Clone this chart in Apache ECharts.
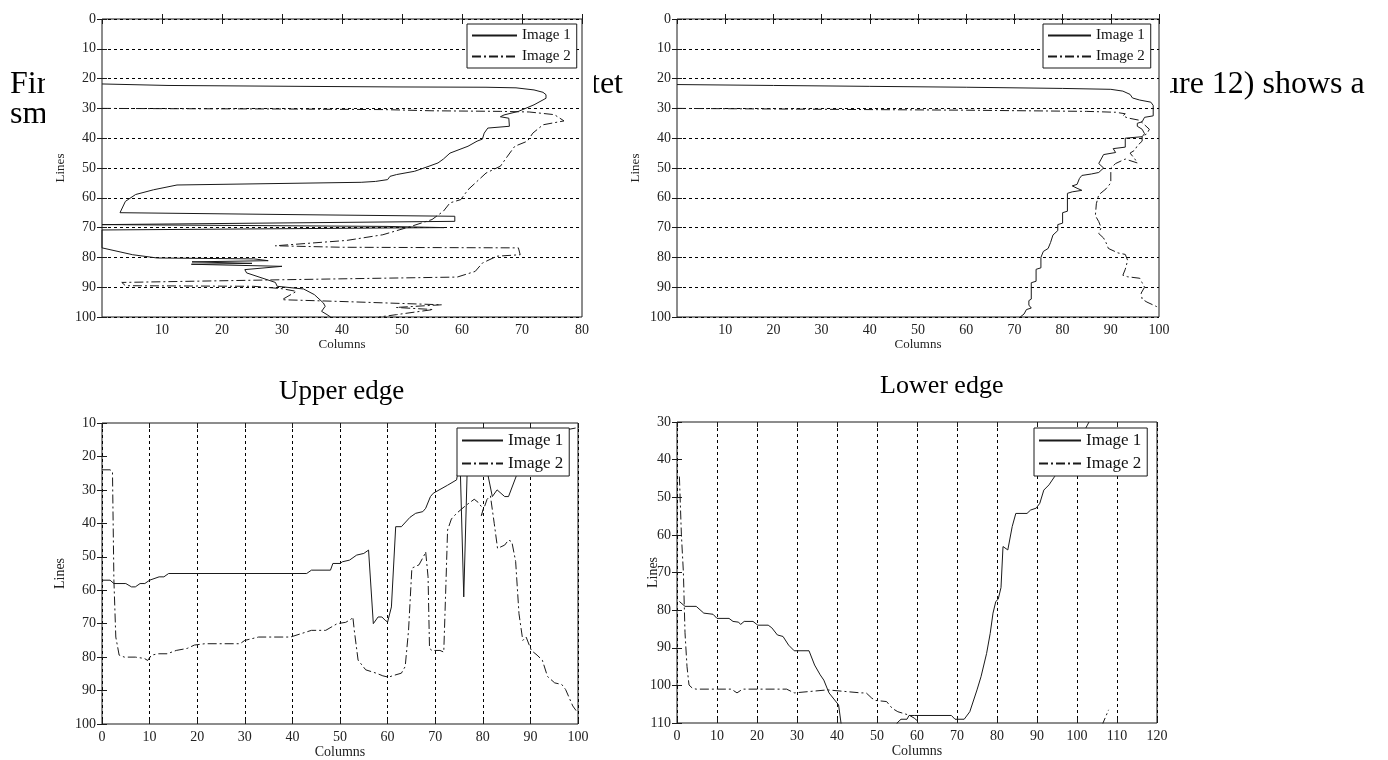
<!DOCTYPE html>
<html>
<head>
<meta charset="utf-8">
<script src="https://cdn.jsdelivr.net/npm/echarts@6/dist/echarts.min.js"></script>
<style>
html, body { margin: 0; padding: 0; background: #fff; }
#chart { width: 1388px; height: 760px; }
</style>
</head>
<body>
<div id="chart"></div>
<script>
// legend names and the page text around the figures
var seriesNames = ['Image 1', 'Image 2'];
var captions = ['Upper edge', 'Lower edge'];
var pageText = ['Fir', 'sm', 'tet', 'ure 12) shows a'];

// [column, line] points, in drawing order
var tlImage1 = [[0,21.8],[11,22.3],[33,22.6],[49,22.8],[64,22.9],[69,23.1],[72,23.8],[73.5,24.6],[74,25.4],[74,26.6],[72,28.8],[69.4,31],[67,32.2],[66.4,32.8],[67.8,33.3],[67.9,36],[64.3,36.6],[63.7,38.3],[63.4,40.3],[62.5,41],[61,42.7],[58,45],[56.9,47],[56,48.3],[54.5,49.4],[52.1,51.1],[49.1,52.2],[48,52.8],[47.6,53.9],[45.6,54.5],[43.2,54.8],[12.5,55.7],[8.6,57.3],[5.6,58.9],[3.9,61.2],[3,65],[30,65.6],[58.8,66.2],[58.8,67.9],[0,69],[47.5,69.6],[57,70],[0,70.8],[0,76.8],[5.1,79.1],[9.2,80.2],[25.3,80.5],[27.7,81.1],[15,81.5],[25,82],[14.9,82.3],[30,83],[23.8,84.1],[24.1,85.2],[28.9,88.4],[29.2,89.7],[33.6,90.6],[35.4,92.5],[36.9,95.3],[37.2,96.4],[36.6,98.1],[37.5,99.2],[38.1,100]];
var tlImage2 = [[0,30],[12,30.1],[30,30.2],[47,30.4],[55,30.8],[66.4,31],[71.2,31.2],[75.4,32.1],[77,34.2],[73.5,35.5],[71.8,38.3],[70.9,41],[68.8,42.7],[67.6,46],[66.4,49.4],[64,51.7],[61,57.3],[59.8,60.6],[58,61.7],[56.9,64.5],[55,67.3],[51.5,69.6],[46.8,72.4],[40.8,74.3],[28.9,76.1],[40,76.6],[69.4,76.8],[69.7,79.1],[65.8,79.6],[63.4,81.9],[62.2,84.7],[59.2,86.6],[30,87.5],[3.3,88.4],[3.9,89.5],[25.3,89.7],[30,90.5],[32.4,91.4],[30,94.2],[40,94.8],[56.6,95.9],[49,96.8],[55.2,97.5],[49.1,99.2],[46.2,100]];
var trImage1 = [[0,22],[20,22.3],[40,22.6],[60,22.9],[80,23.3],[90,23.6],[92.5,24.2],[94,25.3],[94.5,26.5],[96,27.2],[98.3,27.9],[98.8,29],[98.8,32.5],[97,33],[96.5,34.5],[95.5,35],[95.5,36],[96.5,37],[97,38.5],[96.5,39.5],[93,40],[93,43],[90.5,43.5],[91,44.8],[88.5,45.5],[88,47],[87.5,48.5],[88.5,50],[87.5,51.5],[86,52],[84,52.5],[83.5,53.5],[83,55.5],[82,56],[83,56.8],[84,57.5],[82,58],[81,58.5],[81,64.5],[80,65],[80,68.5],[79,69],[79,71],[78,72.5],[77.5,75],[77,77],[76,78],[75.5,80],[75.5,83.5],[74.5,84],[74.5,88],[73.5,88.5],[73.5,94],[73,94.5],[73,96],[73.5,97],[72.5,97.5],[72,99],[71.2,100]];
var trImage2 = [[0,30],[30,30.3],[60,30.6],[85,31],[91,31.3],[93,31.8],[92.5,32.5],[93.5,33.2],[96,34],[97,35.5],[98,37],[97.5,38.5],[96.5,39.5],[96.5,41],[95.5,42.5],[95,44],[94,45],[95,47],[95.5,48.3],[93,47],[91,48.5],[90,50],[90,55],[89,57],[87.5,59],[87,62],[86.8,66],[87.5,68],[88,70],[87.5,72],[88.5,73.5],[89,75],[89.5,77],[91.5,78.5],[93,79],[93.5,81],[93,84],[92.5,86],[93.5,86.5],[96,87],[96.5,88.5],[97,90],[96.3,92],[96.5,94],[97.5,95],[99.5,96.5],[100,97]];
var blImage1 = [[0,57],[1.7,57],[2.5,58],[5,58],[6.2,59],[7,59],[8,58],[9,58],[10,57],[12,56],[13,56],[14,55],[43,55],[44,54],[48,54],[48.5,52],[50,52],[50.5,51.5],[52,51],[53.5,49.5],[55,49],[56,48],[57,70],[58,68],[58.8,68],[59.5,69],[60,69.5],[60.8,65],[61.7,41],[62.9,41],[64.7,38.2],[65.9,37],[67.4,36.5],[68,35.5],[69,32],[69.6,31],[72.6,28.6],[74.5,27],[75.2,20],[76,62],[76.8,20],[79,15],[81,25],[82,32],[83,30],[84.6,32],[85.4,32],[87,26],[89,17],[94,13],[99.5,11.5]];
var blImage2 = [[0,24],[1.7,24],[2.2,24.5],[2.5,57],[2.9,74],[3.6,79.4],[4.7,80],[7,80],[8.9,80.4],[9.6,81],[10.4,79.4],[11.9,79],[13.7,79],[15.6,78],[17.9,77.4],[19.4,76.4],[21.6,76],[29,76],[30,75],[32.9,74],[39.6,74],[44,72],[47,72],[49.4,70],[51.2,69.6],[52.4,68.6],[52.7,68],[53,72],[53.8,80.9],[55.4,83.8],[57.6,84.8],[59,85.6],[60.2,86],[61,85.6],[62.9,84.8],[63.7,82.8],[64.4,72],[65.1,53.4],[66.6,52.4],[67.7,49.5],[68,48.5],[68.5,56],[68.8,77],[69.2,78],[71,78],[71.8,78.5],[72.3,56],[72.6,42],[73.4,38.7],[74.5,37],[76.4,34.7],[78.2,32.8],[79,33.7],[80.1,35.7],[79.7,37.7],[80.9,32.8],[81.6,31.8],[82.4,40],[83.1,47.5],[84.6,46.5],[85.4,45],[86.1,45.5],[86.9,51.4],[87.6,67],[88.4,75],[89.1,74],[90.2,78],[91.4,79.4],[92.5,80.9],[93.6,85.8],[95.1,87.7],[96.6,88.2],[97.4,89.7],[98.9,94.6],[99.6,96]];
var brImage1 = [[0.6,77.7],[2,79],[4.8,79],[6.7,80.8],[9,81.1],[10,82.2],[13,82.2],[14,83],[15.4,83.2],[15.9,83.8],[16.8,83],[19,83],[20.2,84],[22.8,84],[23.7,84.7],[25.1,86.6],[26.5,87],[27.9,89.3],[29.3,90.8],[33,90.8],[34.4,94.6],[35.8,97.2],[36.7,98.6],[38,102],[40.4,105.2],[41,110],[41.5,116],[54,116],[55,110],[56,109],[57.5,109],[58,108],[59.3,108],[68.6,108],[69.5,109],[71.8,109],[73.2,107],[75,101.2],[76,97.7],[77.4,91.5],[78.3,86.2],[79,80.8],[79.7,77.7],[80.3,77.1],[81,74],[81.5,63.1],[82.7,64],[83.8,57.8],[84.7,54.3],[87.5,54.3],[88.4,53.4],[89.8,52.9],[90.7,51.6],[91.7,48.1],[93,46.7],[94.4,44.5],[96,41],[99,37],[102,32],[103,30]];
var brImage2 = [[0.6,44.5],[1.1,60],[1.6,70],[2,86],[2.5,95],[3,99.9],[3.9,100.8],[4.8,101],[13.6,101],[15,102],[16.4,101],[27.4,101],[29.3,102],[37.6,101.2],[46,102],[47.3,102],[48.7,103.4],[49.6,104],[52.4,104.3],[53.8,106.1],[55.2,107],[58,107.9],[59.3,108.7],[60.3,109.6],[61,112],[106,112],[106.5,110],[107.9,106.5]];

var FONT = 'Liberation Serif';
var INK = '#1a1a1a';
var DASHDOT = [9, 3, 2, 3];

// layout of the four panels
var panels = [
    { rect: { left: 102, top: 19, width: 480, height: 298 }, x: [0, 80], y: [0, 100], gridOn: 'y', xZero: false,
      legend: { left: 467, top: 24, itemWidth: 45, itemHeight: 14, fontSize: 15 }, nameSize: 13, yGap: 35, data: [tlImage1, tlImage2] },
    { rect: { left: 677, top: 19, width: 482, height: 298 }, x: [0, 100], y: [0, 100], gridOn: 'y', xZero: false,
      legend: { left: 1043, top: 24, itemWidth: 43, itemHeight: 14, fontSize: 15 }, nameSize: 13, yGap: 35, data: [trImage1, trImage2] },
    { rect: { left: 102, top: 423, width: 476, height: 305 }, x: [0, 100], y: [10, 100], gridOn: 'x', xZero: true,
      legend: { left: 457, top: 428, itemWidth: 41, itemHeight: 17, fontSize: 17 }, nameSize: 14, yGap: 35, data: [blImage1, blImage2] },
    { rect: { left: 677, top: 422, width: 480, height: 301 }, x: [0, 120], y: [30, 110], gridOn: 'x', xZero: true,
      legend: { left: 1034, top: 428, itemWidth: 42, itemHeight: 17, fontSize: 17 }, nameSize: 14, yGap: 17, data: [brImage1, brImage2] }
];

var grid = [], xAxis = [], yAxis = [], series = [], legend = [];
var tickStyle = { inside: true, length: 5, lineStyle: { color: INK } };
var dashGrid = { show: true, lineStyle: { color: '#000', width: 1, type: [3, 3] } };

panels.forEach(function (p, i) {
    grid.push(Object.assign({ show: true, borderColor: INK, borderWidth: 1, containLabel: false }, p.rect));

    xAxis.push({
        type: 'value', gridIndex: i, position: 'bottom', min: p.x[0], max: p.x[1], interval: 10,
        name: 'Columns', nameLocation: 'middle', nameGap: 21, nameMoveOverlap: false,
        nameTextStyle: { fontFamily: FONT, fontSize: p.nameSize, color: '#222' },
        axisLine: { show: false }, axisTick: tickStyle,
        axisLabel: { fontFamily: FONT, fontSize: 14, color: '#222', margin: 6, showMinLabel: p.xZero },
        splitLine: p.gridOn === 'x' ? dashGrid : { show: false }
    });
    xAxis.push({
        type: 'value', gridIndex: i, position: 'top', min: p.x[0], max: p.x[1], interval: 10,
        axisLine: { show: false }, axisTick: tickStyle, axisLabel: { show: false }, splitLine: { show: false }
    });
    yAxis.push({
        type: 'value', gridIndex: i, position: 'left', inverse: true, min: p.y[0], max: p.y[1], interval: 10,
        name: 'Lines', nameLocation: 'middle', nameGap: p.yGap, nameMoveOverlap: false,
        nameTextStyle: { fontFamily: FONT, fontSize: p.nameSize, color: '#222' },
        axisLine: { show: false }, axisTick: tickStyle,
        axisLabel: { fontFamily: FONT, fontSize: 14, color: '#222', margin: 6 },
        splitLine: p.gridOn === 'y' ? dashGrid : { show: false }
    });
    yAxis.push({
        type: 'value', gridIndex: i, position: 'right', inverse: true, min: p.y[0], max: p.y[1], interval: 10,
        axisLine: { show: false }, axisTick: tickStyle, axisLabel: { show: false }, splitLine: { show: false }
    });

    p.data.forEach(function (pts, k) {
        series.push({
            name: seriesNames[k], type: 'line', xAxisIndex: 2 * i, yAxisIndex: 2 * i,
            data: pts, symbol: 'none', clip: true, animation: false, silent: true,
            itemStyle: { color: INK },
            lineStyle: { color: INK, width: 1, type: k === 0 ? 'solid' : DASHDOT }
        });
    });

    legend.push({
        data: seriesNames, orient: 'vertical', left: p.legend.left, top: p.legend.top,
        itemWidth: p.legend.itemWidth, itemHeight: p.legend.itemHeight, itemGap: 6,
        padding: [4, 6, 4, 4], backgroundColor: '#fff', borderColor: INK, borderWidth: 1, borderRadius: 0,
        selectedMode: false,
        itemStyle: { opacity: 0 },
        textStyle: { fontFamily: FONT, fontSize: p.legend.fontSize, color: '#111' }
    });
});

// page text behind the figures, and the white image areas that hide part of it
function txt(s, x, y, size) {
    return { type: 'text', z: -2, style: { text: s, x: x, y: y, fill: '#000', font: size + 'px "' + FONT + '"', verticalAlign: 'middle' } };
}
function blank(x, y, w, h) {
    return { type: 'rect', z: -1, shape: { x: x, y: y, width: w, height: h }, style: { fill: '#fff' } };
}
var graphic = [
    txt(pageText[0], 10, 85, 32),
    txt(pageText[1], 10, 115, 32),
    txt(pageText[2], 591, 85, 32),
    txt(pageText[3], 1163, 85, 32),
    txt(captions[0], 279, 392, 27),
    txt(captions[1], 880, 386, 26),
    blank(45, 0, 549, 358),
    blank(629, 0, 541, 358),
    blank(45, 413, 548, 347),
    blank(629, 413, 541, 347)
];

var chart = echarts.init(document.getElementById('chart'), null, { renderer: 'canvas' });
chart.setOption({
    animation: false,
    backgroundColor: '#fff',
    graphic: graphic,
    grid: grid,
    xAxis: xAxis,
    yAxis: yAxis,
    legend: legend,
    series: series
});
</script>
</body>
</html>
